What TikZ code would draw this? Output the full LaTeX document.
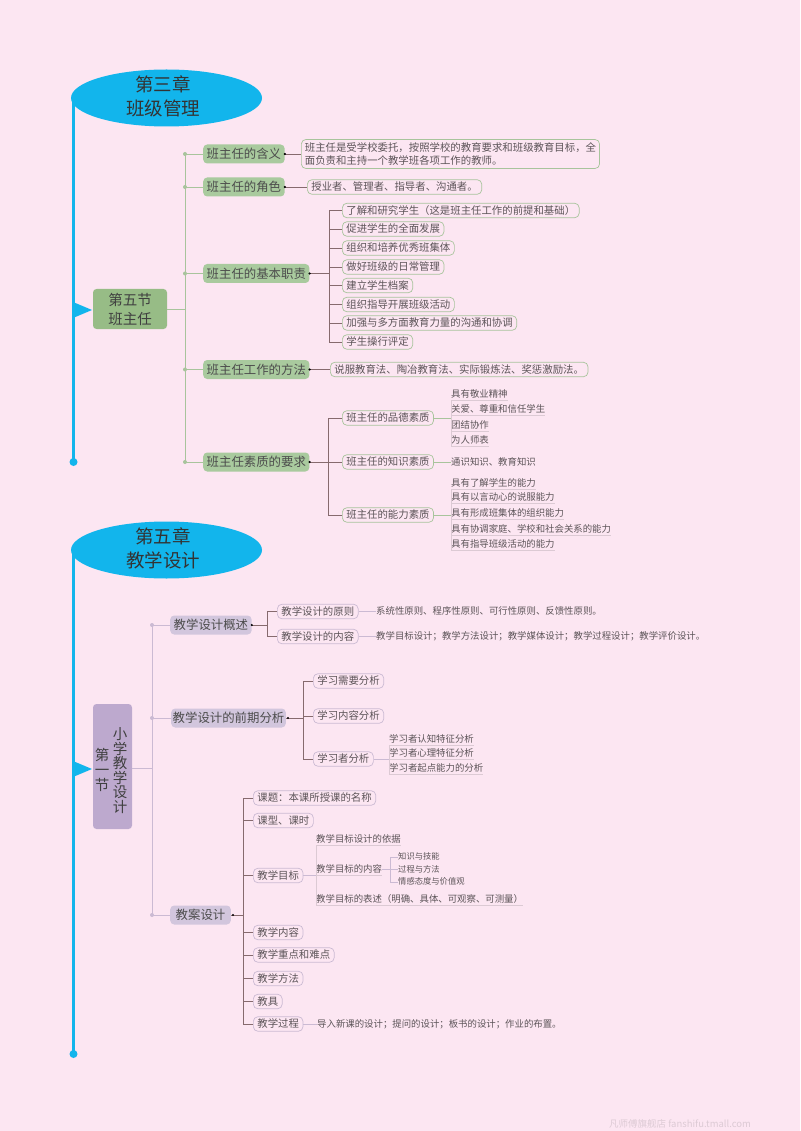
\documentclass[tikz,border=0pt]{standalone}
\usepackage{fontspec}
\setmainfont{Noto Sans CJK SC}
\usetikzlibrary{shapes.geometric}
\newcommand{\fwcomma}{\char"FF0C\relax}
\newcommand{\fwsemi}{\char"FF1B\relax}
\newcommand{\fwcolon}{\char"FF1A\relax}
\newcommand{\fwopen}{\char"FF08\relax}
\newcommand{\fwclose}{\char"FF09\relax}
\definecolor{pagebg}{HTML}{FCE6F2}
\definecolor{skyline}{HTML}{12B5EC}
\definecolor{leafink}{HTML}{5C5458}
\definecolor{greenroot}{HTML}{97BC86}
\definecolor{greenhead}{HTML}{A9CA9E}
\definecolor{greenline}{HTML}{A8C49C}
\definecolor{purproot}{HTML}{BDA9CE}
\definecolor{purphead}{HTML}{D2C6DD}
\definecolor{purpline}{HTML}{CBBAD3}
\definecolor{brackline}{HTML}{866A6E}
\definecolor{rulegrey}{HTML}{DCCAD4}
\tikzset{
	titleshape/.style={ellipse,fill=skyline,minimum width=191pt,minimum height=57pt,inner sep=0pt},
	titletext/.style={align=center,font=\fontsize{18.5}{24}\selectfont,text=black!80},
	rootbox/.style={rounded corners=3.5pt,inner sep=0pt,align=center,font=\fontsize{14.5}{19}\selectfont,text=black!75},
	headbox/.style={rounded corners=4pt,anchor=west,inner xsep=3.5pt,minimum height=19pt,font=\fontsize{12.4}{15}\selectfont,text=black!70},
	itembox/.style={rounded corners=4.5pt,draw,line width=.7pt,anchor=west,inner xsep=4pt,inner ysep=0pt,minimum height=14.5pt,font=\fontsize{10.4}{13}\selectfont,text=leafink},
	leaftext/.style={anchor=west,inner xsep=0pt,inner ysep=1pt,text height=8pt,text depth=2pt,font=\fontsize{9.4}{12}\selectfont,text=leafink},
	smalltext/.style={anchor=west,inner xsep=0pt,inner ysep=1pt,text height=7pt,text depth=2pt,font=\fontsize{8.3}{11}\selectfont,text=leafink},
	undertext/.style={rulegrey,line width=.6pt},
	brack/.style={brackline,line width=.8pt},
	skybar/.style={skyline,line width=3pt}
}
\begin{document}
\begin{tikzpicture}[x=1pt,y=-1pt]
	\fill[pagebg] (0,0) rectangle (800,1131);
	\useasboundingbox (0,0) rectangle (800,1131);
	% first chapter
	\node[titleshape] (E1) at (166.5,98) {};
	\node[titletext] (E1t) at (163,96) {第三章\\班级管理};
	\coordinate (S1) at (73.5,100);
	\coordinate (S1e) at (73.5,462);
	\draw[skybar] (S1) -- (S1e);
	\fill[skyline] (S1e) circle(4pt);
	\fill[skyline] (73,302) -- (92,310) -- (73,318) -- cycle;
	\node[rootbox,fill=greenroot,minimum width=74pt,minimum height=40pt] (R1) at (130,309) {第五节\\班主任};
	% heads
	\node[headbox,fill=greenhead] (H1) at (203,154) {班主任的含义};
	\node[headbox,fill=greenhead] (H2) at (203,187) {班主任的角色};
	\node[headbox,fill=greenhead] (H3) at (203,273.5) {班主任的基本职责};
	\node[headbox,fill=greenhead] (H4) at (203,369.5) {班主任工作的方法};
	\node[headbox,fill=greenhead] (H5) at (203,462) {班主任素质的要求};
	\coordinate (T1) at (185,154);
	\coordinate (T2) at (185,187);
	\coordinate (T3) at (185,273.5);
	\coordinate (T4) at (185,369.5);
	\coordinate (T5) at (185,462);
	\coordinate (T0) at (185,309);
	\draw[greenline,line width=.9pt] (T1) -- (T5);
	\draw[greenline,line width=.9pt] (R1.east) -- (T0);
	\draw[greenline,line width=.9pt] (T1) -- (H1.west);
	\draw[greenline,line width=.9pt] (T2) -- (H2.west);
	\draw[greenline,line width=.9pt] (T3) -- (H3.west);
	\draw[greenline,line width=.9pt] (T4) -- (H4.west);
	\draw[greenline,line width=.9pt] (T5) -- (H5.west);
	\fill[greenline] (T1) circle(2pt);
	\fill[greenline] (T2) circle(2pt);
	\fill[greenline] (T3) circle(2pt);
	\fill[greenline] (T4) circle(2pt);
	\fill[greenline] (T5) circle(2pt);
	% green items
	\node[itembox,draw=greenline,align=left,inner xsep=3.5pt,minimum height=29pt] (A1) at (301,154) {班主任是受学校委托\fwcomma 按照学校的教育要求和班级教育目标\fwcomma 全\\面负责和主持一个教学班各项工作的教师。};
	\node[itembox,draw=greenline] (A2) at (307,187) {授业者、管理者、指导者、沟通者。};
	\node[itembox,draw=greenline] (A4) at (330,369.5) {说服教育法、陶冶教育法、实际锻炼法、奖惩激励法。};
	\draw[brack] (H1.east) -- (A1.west);
	\draw[brack] (H2.east) -- (A2.west);
	\draw[brack] (H4.east) -- (A4.west);
	\node[itembox,draw=greenline] (C1) at (342,210.5) {了解和研究学生\fwopen 这是班主任工作的前提和基础\fwclose};
	\node[itembox,draw=greenline] (C2) at (342,229) {促进学生的全面发展};
	\node[itembox,draw=greenline] (C3) at (342,248) {组织和培养优秀班集体};
	\node[itembox,draw=greenline] (C4) at (342,267) {做好班级的日常管理};
	\node[itembox,draw=greenline] (C5) at (342,285.5) {建立学生档案};
	\node[itembox,draw=greenline] (C6) at (342,304.5) {组织指导开展班级活动};
	\node[itembox,draw=greenline] (C7) at (342,323) {加强与多方面教育力量的沟通和协调};
	\node[itembox,draw=greenline] (C8) at (342,342) {学生操行评定};
	\coordinate (B3) at (329,273.5);
	\draw[brack] (H3.east) -- (B3);
	\draw[brack] (C1.west) -| (B3);
	\draw[brack] (C2.west) -| (B3);
	\draw[brack] (C3.west) -| (B3);
	\draw[brack] (C4.west) -| (B3);
	\draw[brack] (C5.west) -| (B3);
	\draw[brack] (C6.west) -| (B3);
	\draw[brack] (C7.west) -| (B3);
	\draw[brack] (C8.west) -| (B3);
	\node[itembox,draw=greenline] (Q1) at (342,418) {班主任的品德素质};
	\node[itembox,draw=greenline] (Q2) at (342,462) {班主任的知识素质};
	\node[itembox,draw=greenline] (Q3) at (342,515) {班主任的能力素质};
	\coordinate (B5) at (328,462);
	\draw[brack] (H5.east) -- (Q2.west);
	\draw[brack] (Q1.west) -| (B5);
	\draw[brack] (Q3.west) -| (B5);
	\fill (H1.east) circle(1.2pt);
	\fill (H2.east) circle(1.2pt);
	\fill (H3.east) circle(1.2pt);
	\fill (H4.east) circle(1.2pt);
	\fill (H5.east) circle(1.2pt);
	% leaves of the qualities
	\node[leaftext] (L1) at (451,394) {具有敬业精神};
	\node[leaftext] (L2) at (451,409) {关爱、尊重和信任学生};
	\node[leaftext] (L3) at (451,425) {团结协作};
	\node[leaftext] (L4) at (451,440.5) {为人师表};
	\node[leaftext] (L5) at (451,462) {通识知识、教育知识};
	\node[leaftext] (L6) at (451,483) {具有了解学生的能力};
	\node[leaftext] (L7) at (451,497.5) {具有以言动心的说服能力};
	\node[leaftext] (L8) at (451,513) {具有形成班集体的组织能力};
	\node[leaftext] (L9) at (451,529) {具有协调家庭、学校和社会关系的能力};
	\node[leaftext] (L10) at (451,544) {具有指导班级活动的能力};
	\draw[undertext] (L1.south west) -- (L1.south east);
	\draw[undertext] (L2.south west) -- (L2.south east);
	\draw[undertext] (L3.south west) -- (L3.south east);
	\draw[undertext] (L4.south west) -- (L4.south east);
	\draw[undertext] (L6.south west) -- (L6.south east);
	\draw[undertext] (L7.south west) -- (L7.south east);
	\draw[undertext] (L8.south west) -- (L8.south east);
	\draw[undertext] (L9.south west) -- (L9.south east);
	\draw[undertext] (L10.south west) -- (L10.south east);
	\draw[undertext] (L1.south west) -- (L4.south west);
	\draw[undertext] (L6.south west) -- (L10.south west);
	\draw[greenline,line width=.6pt] (Q1.east) -- (Q1.east -| L1.west);
	\draw[greenline,line width=.6pt] (Q2.east) -- (L5.west);
	\draw[greenline,line width=.6pt] (Q3.east) -- (Q3.east -| L6.west);
	% second chapter
	\node[titleshape] (E2) at (166.5,550) {};
	\node[titletext] (E2t) at (163,548) {第五章\\教学设计};
	\coordinate (S2) at (73.5,552);
	\coordinate (S2e) at (73.5,1054);
	\draw[skybar] (S2) -- (S2e);
	\fill[skyline] (S2e) circle(4pt);
	\fill[skyline] (73,761) -- (92,769) -- (73,777) -- cycle;
	\node[rootbox,fill=purproot,minimum width=39pt,minimum height=125pt] (R2) at (112.5,766.5) {};
	\node[rootbox,font=\fontsize{14.5}{14.6}\selectfont] (R2a) at (120,770.5) {小\\学\\教\\学\\设\\计};
	\node[rootbox,font=\fontsize{14.5}{14.6}\selectfont] (R2b) at (102,770) {第\\一\\节};
	% heads
	\node[headbox,fill=purphead] (P1) at (170,625) {教学设计概述};
	\node[headbox,fill=purphead,inner xsep=1.5pt] (P2) at (171,718) {教学设计的前期分析};
	\node[headbox,fill=purphead,inner xsep=5.5pt] (P3) at (170,915) {教案设计};
	\coordinate (U1) at (152,625);
	\coordinate (U2) at (152,718);
	\coordinate (U3) at (152,915);
	\coordinate (U0) at (152,768);
	\draw[purpline,line width=.9pt] (U1) -- (U3);
	\draw[purpline,line width=.9pt] (R2.east |- U0) -- (U0);
	\draw[purpline,line width=.9pt] (U1) -- (P1.west);
	\draw[purpline,line width=.9pt] (U2) -- (P2.west);
	\draw[purpline,line width=.9pt] (U3) -- (P3.west);
	\fill[purpline] (U1) circle(2pt);
	\fill[purpline] (U2) circle(2pt);
	\fill[purpline] (U3) circle(2pt);
	% outline
	\node[itembox,draw=purpline] (G1) at (277,611.5) {教学设计的原则};
	\node[itembox,draw=purpline] (G2) at (277,636.5) {教学设计的内容};
	\coordinate (B6) at (267,625);
	\draw[brack] (P1.east) -- (B6);
	\draw[brack] (G1.west) -| (B6);
	\draw[brack] (G2.west) -| (B6);
	\node[leaftext] (G1a) at (376,611.5) {系统性原则、程序性原则、可行性原则、反馈性原则。};
	\node[leaftext] (G2a) at (376,636.5) {教学目标设计\fwsemi 教学方法设计\fwsemi 教学媒体设计\fwsemi 教学过程设计\fwsemi 教学评价设计。};
	\draw[purpline,line width=.6pt] (G1.east) -- (G1a.west);
	\draw[purpline,line width=.6pt] (G2.east) -- (G2a.west);
	% analysis
	\node[itembox,draw=purpline] (K1) at (313,681) {学习需要分析};
	\node[itembox,draw=purpline] (K2) at (313,716) {学习内容分析};
	\node[itembox,draw=purpline] (K3) at (313,759) {学习者分析};
	\coordinate (B7) at (303.5,718);
	\draw[brack] (P2.east) -- (B7);
	\draw[brack] (K1.west) -| (B7);
	\draw[brack] (K2.west) -| (B7);
	\draw[brack] (K3.west) -| (B7);
	\node[leaftext] (K3a) at (389,739) {学习者认知特征分析};
	\node[leaftext] (K3b) at (389,753.5) {学习者心理特征分析};
	\node[leaftext] (K3c) at (389,768) {学习者起点能力的分析};
	\draw[undertext] (K3a.south west) -- (K3a.south east);
	\draw[undertext] (K3b.south west) -- (K3b.south east);
	\draw[undertext] (K3c.south west) -- (K3c.south east);
	\draw[undertext] (K3a.south west) -- (K3c.south west);
	\draw[purpline,line width=.6pt] (K3.east) -- (K3.east -| K3a.west);
	% lesson plan
	\node[itembox,draw=purpline] (J1) at (253,798) {课题\fwcolon 本课所授课的名称};
	\node[itembox,draw=purpline] (J2) at (253,820.5) {课型、课时};
	\node[itembox,draw=purpline] (J3) at (253,875.5) {教学目标};
	\node[itembox,draw=purpline] (J4) at (253,932.5) {教学内容};
	\node[itembox,draw=purpline] (J5) at (253,955) {教学重点和难点};
	\node[itembox,draw=purpline] (J6) at (253,978.5) {教学方法};
	\node[itembox,draw=purpline] (J7) at (253,1001.5) {教具};
	\node[itembox,draw=purpline] (J8) at (253,1024) {教学过程};
	\coordinate (B8) at (243.5,915);
	\draw[brack] (P3.east) -- (B8);
	\draw[brack] (J1.west) -| (B8);
	\draw[brack] (J2.west) -| (B8);
	\draw[brack] (J3.west) -| (B8);
	\draw[brack] (J4.west) -| (B8);
	\draw[brack] (J5.west) -| (B8);
	\draw[brack] (J6.west) -| (B8);
	\draw[brack] (J7.west) -| (B8);
	\draw[brack] (J8.west) -| (B8);
	\fill (P1.east) circle(1.2pt);
	\fill (P2.east) ++(2,0) circle(1.2pt);
	\fill (P3.east) ++(2,0) circle(1.2pt);
	\node[leaftext] (M1) at (316,839.5) {教学目标设计的依据};
	\node[leaftext] (M2) at (316,869.5) {教学目标的内容};
	\node[leaftext] (M3) at (316,899.5) {教学目标的表述\fwopen 明确、具体、可观察、可测量\fwclose};
	\draw[undertext] (M1.south west) -- (M1.south east);
	\draw[undertext] (M2.south west) -- (M2.south east);
	\draw[undertext] (M3.south west) -- (M3.south east);
	\draw[undertext] (M1.south west) -- (M3.south west);
	\draw[purpline,line width=.6pt] (J3.east) -- (J3.east -| M2.west);
	\node[smalltext] (N1) at (398,857) {知识与技能};
	\node[smalltext] (N2) at (398,869.5) {过程与方法};
	\node[smalltext] (N3) at (398,882) {情感态度与价值观};
	\coordinate (B9) at (390.5,869.5);
	\draw[purpline,line width=.6pt] (M2.east) -- (N2.west);
	\draw[purpline,line width=.6pt] (N1.west) -| (B9);
	\draw[purpline,line width=.6pt] (N3.west) -| (B9);
	\node[leaftext] (J8a) at (317,1024) {导入新课的设计\fwsemi 提问的设计\fwsemi 板书的设计\fwsemi 作业的布置。};
	\draw[purpline,line width=.6pt] (J8.east) -- (J8a.west);
	% shop mark
	\node[anchor=west,inner sep=0pt,text=rulegrey,font=\fontsize{9.5}{11}\selectfont] (W1) at (609,1124) {凡师傅旗舰店 fanshifu.tmall.com};
\end{tikzpicture}
\end{document}
